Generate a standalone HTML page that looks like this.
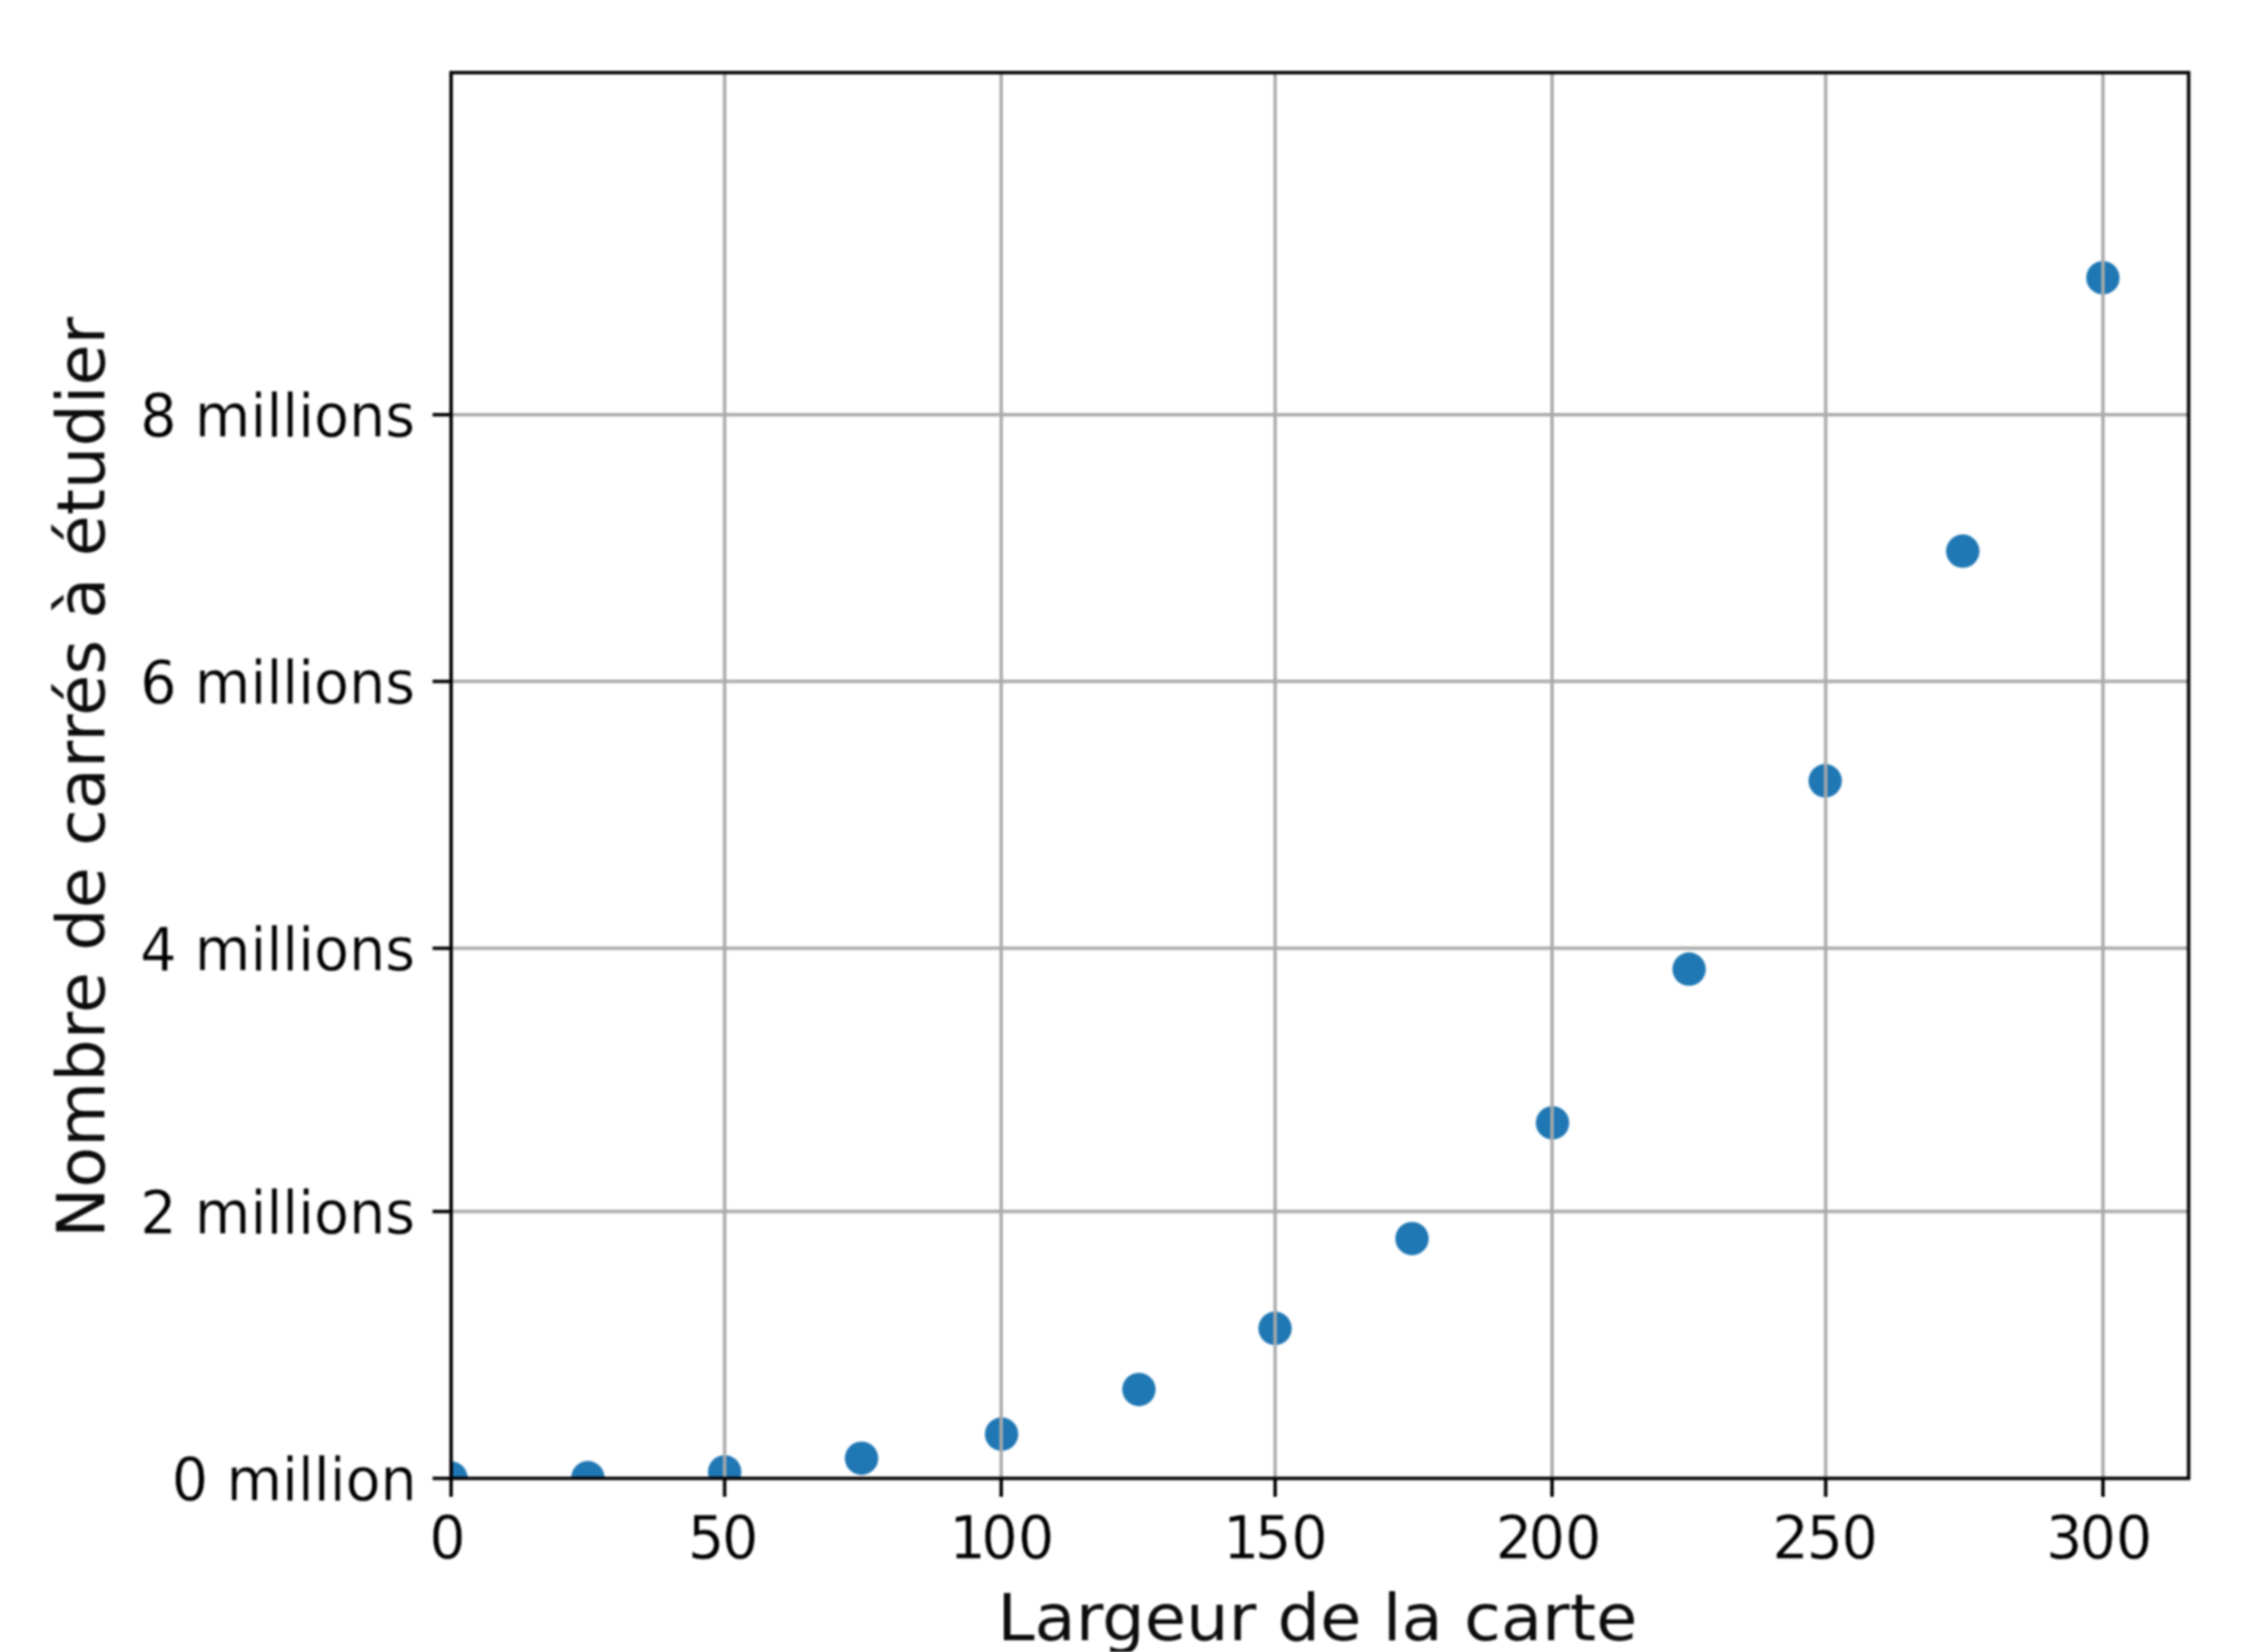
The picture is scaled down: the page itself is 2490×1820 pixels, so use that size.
<!DOCTYPE html>
<html lang="fr">
<head>
<meta charset="utf-8">
<title>Nombre de carrés à étudier</title>
<style>
  html, body { margin: 0; padding: 0; background: #ffffff; }
  body { width: 2490px; height: 1820px; overflow: hidden; }
  svg { display: block; position: absolute; left: 0; top: 0; filter: blur(1.3px); }
  text { font-family: "DejaVu Sans", "Liberation Sans", sans-serif; fill: #000000; }
  .tick { font-size: 63px; fill: #1c1c1c; stroke: #ffffff; stroke-width: 0.4; }
  .axlabel { font-size: 73.7px; fill: #0c0c0c; }
  .grid line { stroke: #aaaaaa; stroke-width: 3.7; }
  .spine { stroke: #000000; stroke-width: 3.8; fill: none; }
  .tk line { stroke: #000000; stroke-width: 3.8; }
  .dots circle { fill: #1f77b4; }
</style>
</head>
<body>
<svg width="2490" height="1820" viewBox="0 0 2490 1820">
  <defs>
    <clipPath id="axclip"><rect x="497" y="80" width="1914.4" height="1548.7"/></clipPath>
  </defs>
  <rect x="0" y="0" width="2490" height="1820" fill="#ffffff"/>

  <!-- scatter markers (drawn below the grid, clipped to the axes) -->
  <g class="dots" clip-path="url(#axclip)">
    <circle cx="497" cy="1628.5" r="18.4"/>
    <circle cx="647.7" cy="1628" r="18.4"/>
    <circle cx="798.4" cy="1621.6" r="18.4"/>
    <circle cx="949.2" cy="1606.6" r="18.4"/>
    <circle cx="1103.5" cy="1580" r="18.4"/>
    <circle cx="1254.8" cy="1530.8" r="18.4"/>
    <circle cx="1404.8" cy="1463.5" r="18.4"/>
    <circle cx="1555.7" cy="1364.6" r="18.4"/>
    <circle cx="1710.5" cy="1237.1" r="18.4"/>
    <circle cx="1861" cy="1067.7" r="18.4"/>
    <circle cx="2010.9" cy="860.2" r="18.4"/>
    <circle cx="2162.5" cy="607.2" r="18.4"/>
    <circle cx="2316.9" cy="306.1" r="18.4"/>
  </g>

  <!-- grid -->
  <g class="grid">
    <line x1="798.4" y1="80" x2="798.4" y2="1628.7"/>
    <line x1="1103.1" y1="80" x2="1103.1" y2="1628.7"/>
    <line x1="1404.9" y1="80" x2="1404.9" y2="1628.7"/>
    <line x1="1710" y1="80" x2="1710" y2="1628.7"/>
    <line x1="2011.5" y1="80" x2="2011.5" y2="1628.7"/>
    <line x1="2317" y1="80" x2="2317" y2="1628.7"/>
    <line x1="497" y1="456.9" x2="2411.3" y2="456.9"/>
    <line x1="497" y1="750.7" x2="2411.3" y2="750.7"/>
    <line x1="497" y1="1044.7" x2="2411.3" y2="1044.7"/>
    <line x1="497" y1="1334.7" x2="2411.3" y2="1334.7"/>
  </g>

  <!-- tick marks -->
  <g class="tk">
    <line x1="497" y1="1628.7" x2="497" y2="1649"/>
    <line x1="798.4" y1="1628.7" x2="798.4" y2="1649"/>
    <line x1="1103.1" y1="1628.7" x2="1103.1" y2="1649"/>
    <line x1="1404.9" y1="1628.7" x2="1404.9" y2="1649"/>
    <line x1="1710" y1="1628.7" x2="1710" y2="1649"/>
    <line x1="2011.5" y1="1628.7" x2="2011.5" y2="1649"/>
    <line x1="2317" y1="1628.7" x2="2317" y2="1649"/>
    <line x1="476.6" y1="456.9" x2="497" y2="456.9"/>
    <line x1="476.6" y1="750.7" x2="497" y2="750.7"/>
    <line x1="476.6" y1="1044.7" x2="497" y2="1044.7"/>
    <line x1="476.6" y1="1334.7" x2="497" y2="1334.7"/>
    <line x1="476.6" y1="1628.7" x2="497" y2="1628.7"/>
  </g>

  <!-- axes frame -->
  <rect class="spine" x="497" y="80" width="1914.4" height="1548.7"/>

  <!-- x tick labels -->
  <g class="tick" text-anchor="middle">
    <text transform="translate(493.1 1717) scale(1 1.045)">0</text>
    <text transform="translate(796.8 1717) scale(1 1.045)">5<tspan dx="-2.6">0</tspan></text>
    <text transform="translate(1103.7 1717) scale(1 1.045)">1<tspan dx="-4.7">00</tspan></text>
    <text transform="translate(1405.1 1717) scale(1 1.045)">1<tspan dx="-4.8">50</tspan></text>
    <text transform="translate(1706.15 1717) scale(1 1.045)">2<tspan dx="-3.9">00</tspan></text>
    <text transform="translate(2010.95 1717) scale(1 1.045)">2<tspan dx="-2.3">5</tspan><tspan dx="-1.6">0</tspan></text>
    <text transform="translate(2312.75 1717) scale(1 1.045)">3<tspan dx="-3.1">00</tspan></text>
  </g>

  <!-- y tick labels -->
  <g class="tick" text-anchor="end">
    <text transform="translate(457.2 480.9) scale(1 1.05)">8 millions</text>
    <text transform="translate(457.2 775.3) scale(1 1.05)">6 millions</text>
    <text transform="translate(457.2 1068.5) scale(1 1.05)">4 millions</text>
    <text transform="translate(457.2 1358.8) scale(1 1.05)">2 millions</text>
    <text transform="translate(459.2 1652.6) scale(1 1.05)">0 million</text>
  </g>

  <!-- axis labels -->
  <text class="axlabel" text-anchor="middle" style="font-size:74px" transform="translate(1451.3 1806.7) scale(1 0.97)">Largeur de la carte</text>
  <text class="axlabel" text-anchor="middle" transform="translate(114.7 856.4) rotate(-90)">Nombre de carrés à étudier</text>
</svg>
</body>
</html>
